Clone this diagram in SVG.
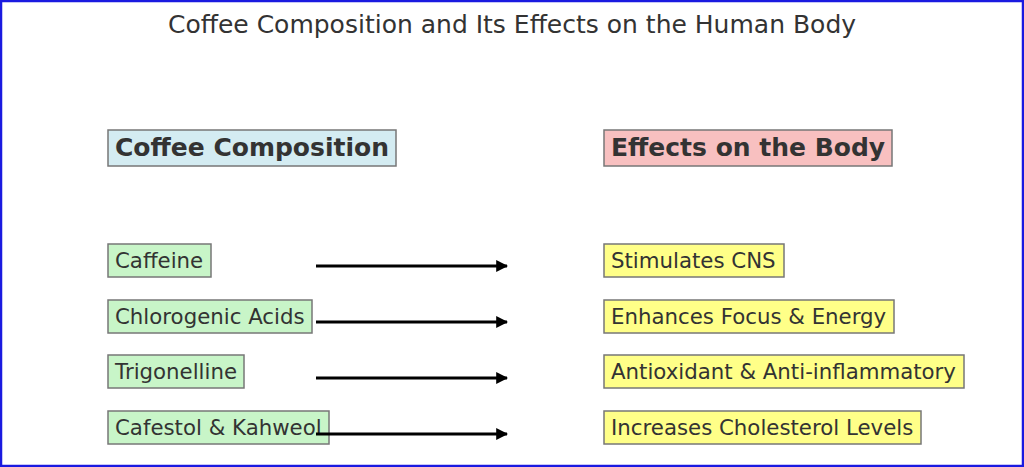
<svg xmlns="http://www.w3.org/2000/svg" width="1024" height="467" viewBox="0 0 1024 467">
<style>
text{font-family:"DejaVu Sans",sans-serif;fill:#333}
.h{font-size:25px;font-weight:bold}
.t{font-size:21.3px}
rect.b{stroke:#777;stroke-width:1.5}
.l{fill:#c8f5c8}.r{fill:#ffff88}
.c line{stroke:#000;stroke-width:3;marker-end:url(#a)}
</style>
<defs><marker id="a" viewBox="0 0 10 10" refX="9" refY="5" markerWidth="4" markerHeight="4" orient="auto"><path d="M0,0L10,5L0,10z" fill="#000"/></marker></defs>
<rect x="1" y="1" width="1022" height="465" fill="#fff" stroke="#1a1ae0" stroke-width="2.5"/>
<text x="512" y="33" text-anchor="middle" font-size="25">Coffee Composition and Its Effects on the Human Body</text>
<g id="hl"><rect class="b" x="108" y="130" width="288" height="36" fill="#d4ecf2"/><text class="h" x="115" y="156">Coffee Composition</text></g>
<g id="hr"><rect class="b" x="604" y="130" width="288" height="36" fill="#f8c0c0"/><text class="h" x="611" y="156">Effects on the Body</text></g>
<g id="l1"><rect class="b l" x="108" y="244" width="103" height="33"/><text class="t" x="115" y="268">Caffeine</text></g>
<g id="l2"><rect class="b l" x="108" y="300" width="204" height="33"/><text class="t" x="115" y="324">Chlorogenic Acids</text></g>
<g id="l3"><rect class="b l" x="108" y="355" width="136" height="33"/><text class="t" x="115" y="379">Trigonelline</text></g>
<g id="l4"><rect class="b l" x="108" y="411" width="221" height="33"/><text class="t" x="115" y="435">Cafestol &amp; Kahweol</text></g>
<g id="r1"><rect class="b r" x="604" y="244" width="180" height="33"/><text class="t" x="611" y="268">Stimulates CNS</text></g>
<g id="r2"><rect class="b r" x="604" y="300" width="290" height="33"/><text class="t" x="611" y="324">Enhances Focus &amp; Energy</text></g>
<g id="r3"><rect class="b r" x="604" y="355" width="360" height="33"/><text class="t" x="611" y="379">Antioxidant &amp; Anti-inflammatory</text></g>
<g id="r4"><rect class="b r" x="604" y="411" width="317" height="33"/><text class="t" x="611" y="435">Increases Cholesterol Levels</text></g>
<g class="c" id="connectors">
<line x1="316" y1="266" x2="507" y2="266"/>
<line x1="316" y1="322" x2="507" y2="322"/>
<line x1="316" y1="378" x2="507" y2="378"/>
<line x1="316" y1="434" x2="507" y2="434"/>
</g>
</svg>
